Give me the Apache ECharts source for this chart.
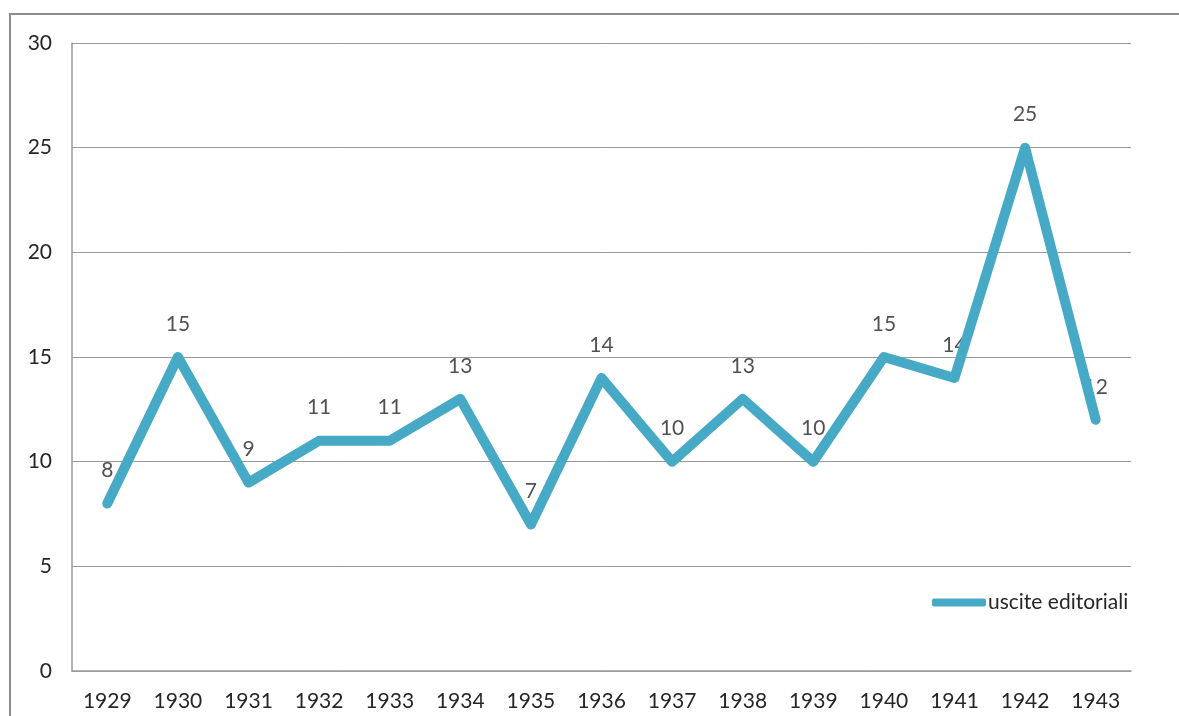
<!DOCTYPE html>
<html>
<head>
<meta charset="utf-8">
<script src="https://cdn.jsdelivr.net/npm/echarts@6/dist/echarts.min.js"></script>
<style>
html,body{margin:0;padding:0;background:#fff;}
#chart{width:1179px;height:716px;}
</style>
</head>
<body>
<div id="chart"></div>
<script>
const categories = ['1929','1930','1931','1932','1933','1934','1935','1936','1937','1938','1939','1940','1941','1942','1943'];
const usciteEditoriali = [8,15,9,11,11,13,7,14,10,13,10,15,14,25,12];
const seriesName = 'uscite editoriali';

const chart = echarts.init(document.getElementById('chart'), null, {renderer:'canvas'});
const font = 'Lato, "Open Sans", sans-serif';
const lineColor = '#46A9C6';
const textColor = '#262626';
chart.setOption({
  backgroundColor:'#fff',
  animation:false,
  graphic:[{
    type:'rect', silent:true,
    shape:{x:10,y:14,width:1250,height:800},
    style:{fill:'none',stroke:'#8c8c8c',lineWidth:2}
  }],
  grid:{left:72,top:43,right:48,bottom:45,containLabel:false},
  legend:{
    left:927, top:587,
    icon:'roundRect',
    itemWidth:54, itemHeight:8, itemGap:0,
    textStyle:{fontFamily:font,fontSize:21,color:textColor,padding:[0,0,0,-3]},
    data:[seriesName]
  },
  xAxis:{
    type:'category',
    data:categories,
    boundaryGap:true,
    axisLine:{lineStyle:{color:'#999',width:1.5}},
    axisTick:{show:false},
    axisLabel:{fontFamily:font,fontSize:21,color:textColor,margin:20}
  },
  yAxis:{
    type:'value',min:0,max:30,interval:5,
    axisLine:{show:true,lineStyle:{color:'#999',width:1.5}},
    axisTick:{show:false},
    axisLabel:{fontFamily:font,fontSize:21,color:textColor,margin:20},
    splitLine:{lineStyle:{color:'#999',width:1}}
  },
  series:[{
    name:seriesName,
    type:'line',
    z:3,
    data:usciteEditoriali,
    symbol:'none',
    lineStyle:{color:lineColor,width:10,join:'round',cap:'round'},
    itemStyle:{color:lineColor}
  },{
    name:'labels',
    type:'scatter',
    z:1,
    data:usciteEditoriali,
    symbolSize:1,
    itemStyle:{color:'rgba(0,0,0,0)'},
    silent:true,
    label:{show:true,position:'top',distance:22,fontFamily:font,fontSize:21,color:textColor}
  }]
});
</script>
</body>
</html>
